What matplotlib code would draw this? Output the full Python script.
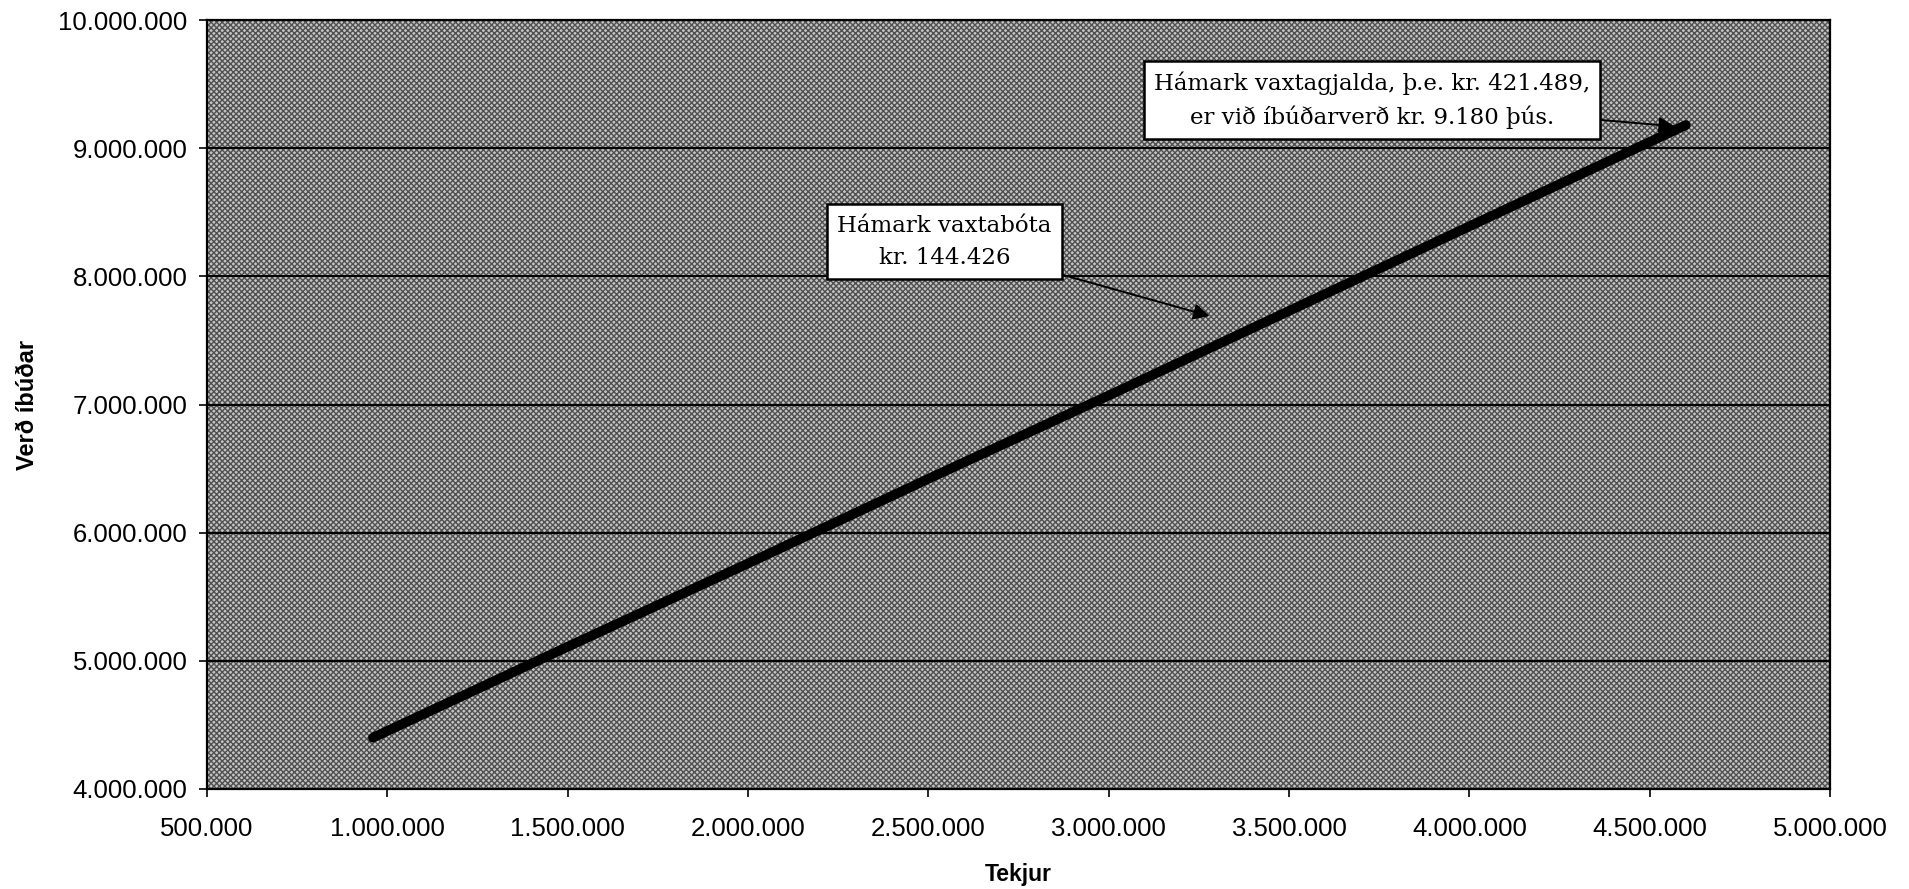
import matplotlib
matplotlib.use("Agg")
import matplotlib.pyplot as plt
from matplotlib.patches import Rectangle
from matplotlib.ticker import FuncFormatter

# Tekjur (income) vs. verð íbúðar (house price)
tekjur = [960000, 1500000, 2000000, 2500000, 3000000, 3500000, 4000000, 4600000]
verd = [4400000, 5110000, 5760000, 6420000, 7070000, 7730000, 8390000, 9180000]

x_ticks = [500000, 1000000, 1500000, 2000000, 2500000, 3000000, 3500000, 4000000, 4500000, 5000000]
y_ticks = [4000000, 5000000, 6000000, 7000000, 8000000, 9000000, 10000000]

note_bota = "Hámark vaxtabóta\nkr. 144.426"
note_bota_xy = (3280000, 7690000)
note_bota_text = (2545000, 8270000)

note_gjalda = "Hámark vaxtagjalda, þ.e. kr. 421.489,\ner við íbúðarverð kr. 9.180 þús."
note_gjalda_xy = (4570000, 9170000)
note_gjalda_text = (3730000, 9375000)


def dots(v, pos=None):
    return f"{v:,.0f}".replace(",", ".")


fig = plt.figure(figsize=(19.09, 8.89), dpi=100)
ax = fig.add_axes([207 / 1909, 1 - 789 / 889, (1830 - 207) / 1909, (789 - 20) / 889])

# dithered grey background
ax.set_facecolor("#c4c4c4")
ax.add_patch(Rectangle((0, 0), 1, 1, transform=ax.transAxes, facecolor="none",
                       edgecolor="#505050", hatch="xxxxxx", linewidth=0, zorder=0))

ax.plot(tekjur, verd, color="black", linewidth=7, solid_capstyle="round", zorder=3)

ax.set_xlim(500000, 5000000)
ax.set_ylim(4000000, 10000000)
ax.set_xticks(x_ticks)
ax.set_yticks(y_ticks)
ax.xaxis.set_major_formatter(FuncFormatter(dots))
ax.yaxis.set_major_formatter(FuncFormatter(dots))
ax.yaxis.grid(True, color="black", linewidth=1.5, zorder=1)
ax.set_axisbelow(True)
ax.tick_params(axis="both", direction="out", length=6, width=1.2, labelsize=18.5,
               labelcolor="black")
ax.tick_params(axis="x", pad=14)
ax.tick_params(axis="y", pad=8)
for s in ax.spines.values():
    s.set_linewidth(1.6)
    s.set_color("black")

for lbl in ax.get_xticklabels() + ax.get_yticklabels():
    lbl.set_family("Liberation Sans")

ax.set_xlabel("Tekjur", fontsize=16.5, fontweight="bold", family="Liberation Sans", labelpad=16)
ax.set_ylabel("Verð íbúðar", fontsize=17, fontweight="bold", family="Liberation Sans", labelpad=14)

box = dict(boxstyle="square,pad=0.45", facecolor="white", edgecolor="black", linewidth=1.8)
arrow = dict(arrowstyle="-|>", color="black", linewidth=1.4, mutation_scale=24, shrinkA=0, shrinkB=0)

ax.annotate(note_bota, xy=note_bota_xy, xytext=note_bota_text, ha="center", va="center",
            fontsize=16.5, family="DejaVu Serif", linespacing=1.6, bbox=box, arrowprops=arrow,
            zorder=5)
ax.annotate(note_gjalda, xy=note_gjalda_xy, xytext=note_gjalda_text, ha="center", va="center",
            fontsize=16.5, family="DejaVu Serif", linespacing=1.6, bbox=box, arrowprops=arrow,
            zorder=5)

fig.savefig("out.png", dpi=100)
